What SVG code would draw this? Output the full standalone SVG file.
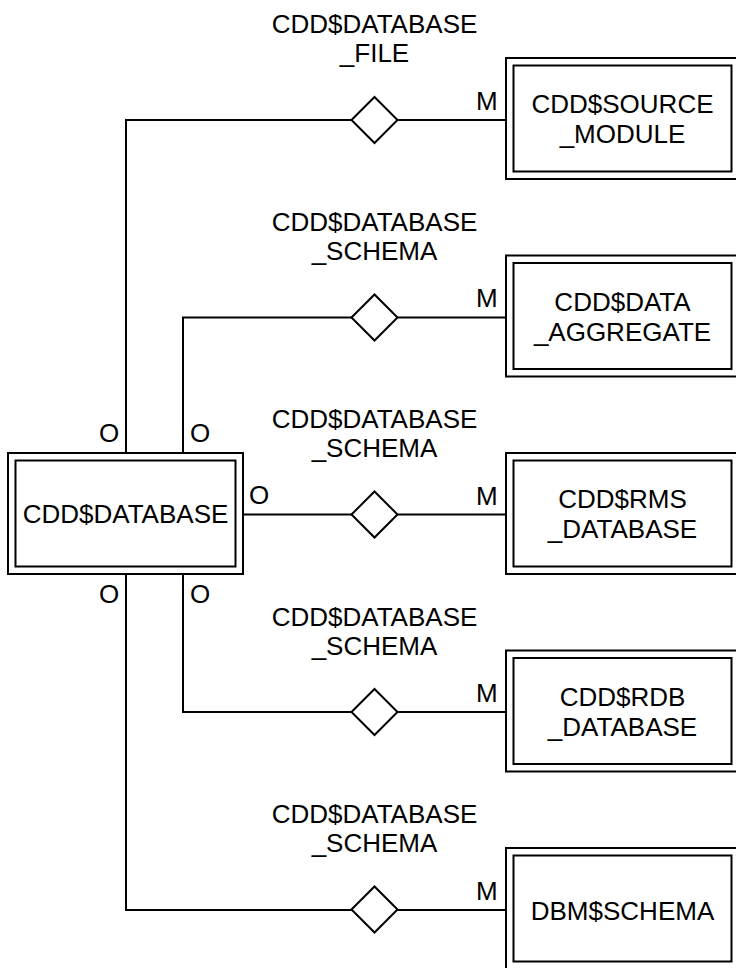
<svg xmlns="http://www.w3.org/2000/svg" width="736" height="968" viewBox="0 0 736 968">
<style>
  .ln { fill: none; stroke: #000; stroke-width: 2; }
  .box { fill: #fff; stroke: #000; stroke-width: 2; }
  .dia { fill: #fff; stroke: #000; stroke-width: 2; }
  text { font-family: "Liberation Sans", Arial, sans-serif; font-size: 26px; fill: #000; }
  .c { text-anchor: middle; }
</style>
<rect width="736" height="968" fill="#fff"/>
<g id="connectors">
  <path class="ln" d="M126,453 V120 H506"/>
  <path class="ln" d="M183,453 V317.5 H506"/>
  <path class="ln" d="M243,514.5 H506"/>
  <path class="ln" d="M183,574 V712 H506"/>
  <path class="ln" d="M126,574 V910 H506"/>
  <text x="99" y="441.5">O</text>
  <text x="190" y="441.5">O</text>
  <text x="249" y="504">O</text>
  <text x="99" y="603">O</text>
  <text x="190" y="603">O</text>
  <text x="476" y="109.5">M</text>
  <text x="476" y="307">M</text>
  <text x="476" y="504.5">M</text>
  <text x="476" y="702">M</text>
  <text x="476" y="899.5">M</text>
</g>
<g id="rel1">
  <polygon class="dia" points="351.5,120 374.5,97 397.5,120 374.5,143"/>
  <text class="c" x="374.5" y="33.3">CDD$DATABASE</text>
  <text class="c" x="374.5" y="62">_FILE</text>
</g>
<g id="rel2">
  <polygon class="dia" points="351.5,317.5 374.5,294.5 397.5,317.5 374.5,340.5"/>
  <text class="c" x="374.5" y="230.8">CDD$DATABASE</text>
  <text class="c" x="374.5" y="259.5">_SCHEMA</text>
</g>
<g id="rel3">
  <polygon class="dia" points="351.5,514.5 374.5,491.5 397.5,514.5 374.5,537.5"/>
  <text class="c" x="374.5" y="428.3">CDD$DATABASE</text>
  <text class="c" x="374.5" y="457">_SCHEMA</text>
</g>
<g id="rel4">
  <polygon class="dia" points="351.5,712 374.5,689 397.5,712 374.5,735"/>
  <text class="c" x="374.5" y="625.8">CDD$DATABASE</text>
  <text class="c" x="374.5" y="654.5">_SCHEMA</text>
</g>
<g id="rel5">
  <polygon class="dia" points="351.5,909.5 374.5,886.5 397.5,909.5 374.5,932.5"/>
  <text class="c" x="374.5" y="823.3">CDD$DATABASE</text>
  <text class="c" x="374.5" y="852">_SCHEMA</text>
</g>
<g id="cdd_database">
  <rect class="box" x="8" y="453" width="235" height="121"/>
  <rect class="box" x="15.5" y="460.5" width="220" height="106"/>
  <text class="c" x="125.5" y="523">CDD$DATABASE</text>
</g>
<g id="cdd_source_module">
  <rect class="box" x="506" y="58" width="233" height="121"/>
  <rect class="box" x="513.5" y="65.5" width="218" height="106"/>
  <text class="c" x="622.5" y="113.3">CDD$SOURCE</text>
  <text class="c" x="622.5" y="143.3">_MODULE</text>
</g>
<g id="cdd_data_aggregate">
  <rect class="box" x="506" y="255.5" width="233" height="121"/>
  <rect class="box" x="513.5" y="263" width="218" height="106"/>
  <text class="c" x="622.5" y="310.8">CDD$DATA</text>
  <text class="c" x="622.5" y="340.8">_AGGREGATE</text>
</g>
<g id="cdd_rms_database">
  <rect class="box" x="506" y="453" width="233" height="121"/>
  <rect class="box" x="513.5" y="460.5" width="218" height="106"/>
  <text class="c" x="622.5" y="508.3">CDD$RMS</text>
  <text class="c" x="622.5" y="538.3">_DATABASE</text>
</g>
<g id="cdd_rdb_database">
  <rect class="box" x="506" y="650.5" width="233" height="121"/>
  <rect class="box" x="513.5" y="658" width="218" height="106"/>
  <text class="c" x="622.5" y="705.8">CDD$RDB</text>
  <text class="c" x="622.5" y="735.8">_DATABASE</text>
</g>
<g id="dbm_schema">
  <rect class="box" x="506" y="848" width="233" height="121"/>
  <rect class="box" x="513.5" y="855.5" width="218" height="106"/>
  <text class="c" x="622.5" y="920">DBM$SCHEMA</text>
</g>
</svg>
